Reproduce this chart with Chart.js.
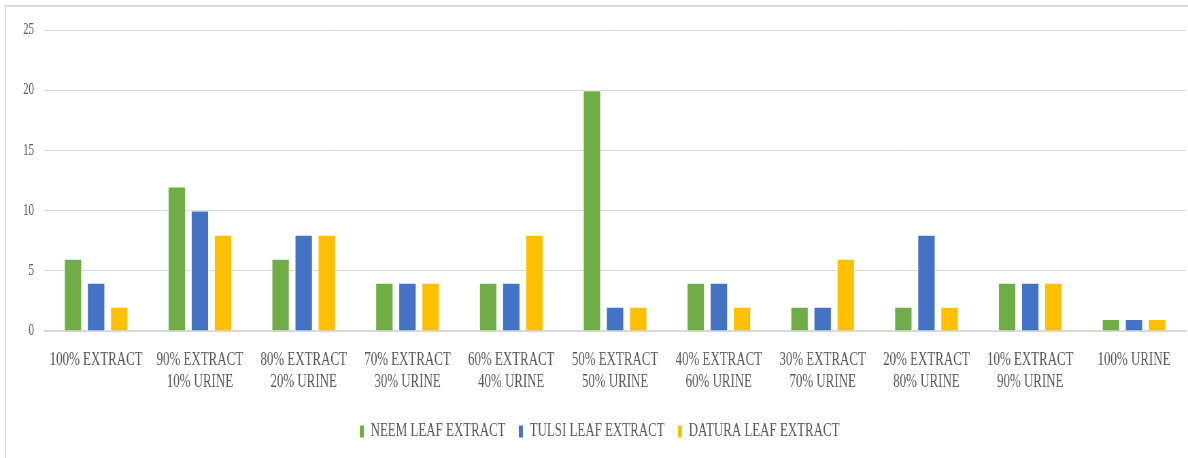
<!DOCTYPE html>
<html>
<head>
<meta charset="utf-8">
<script src="https://cdn.jsdelivr.net/npm/chart.js@4"></script>
<style>
  body { margin: 0; background: #fff; overflow: hidden; }
  #marco { position: absolute; left: 5px; top: 5px; width: 1200px; height: 470px; border-top: 2px solid #d9d9d9; border-left: 1px solid #d9d9d9; }
  /* el original usa una fuente estrecha: se comprime el lienzo en horizontal */
  #chart { position: absolute; left: 0; top: 0; transform-origin: 0 0; }
</style>
</head>
<body>
<div id="marco"></div>
<canvas id="chart"></canvas>
<script>
'use strict';

// Categorías (mezcla extracto / orina)
const categorias = [
  ['100% EXTRACT'],
  ['90% EXTRACT', '10% URINE'],
  ['80% EXTRACT', '20% URINE'],
  ['70% EXTRACT', '30% URINE'],
  ['60% EXTRACT', '40% URINE'],
  ['50% EXTRACT', '50% URINE'],
  ['40% EXTRACT', '60% URINE'],
  ['30% EXTRACT', '70% URINE'],
  ['20% EXTRACT', '80% URINE'],
  ['10% EXTRACT', '90% URINE'],
  ['100% URINE']
];

const neem = [6, 12, 6, 4, 4, 20, 4, 2, 2, 4, 1];
const tulsi = [4, 10, 8, 4, 4, 2, 4, 2, 8, 4, 1];
const datura = [2, 8, 8, 4, 8, 2, 2, 6, 2, 4, 1];

const escala = 0.68;
const familia = '"Liberation Serif", "Times New Roman", serif';
const gris = '#595959';

const canvas = document.getElementById('chart');
canvas.width = Math.round(1188 / escala);
canvas.height = 458;
canvas.style.width = canvas.width + 'px';
canvas.style.height = '458px';
canvas.style.transform = `scaleX(${escala})`;

new Chart(canvas, {
  type: 'bar',
  data: {
    labels: categorias,
    datasets: [
      { label: 'NEEM LEAF EXTRACT', data: neem, backgroundColor: '#70AD47', borderColor: '#ffffff', borderWidth: 1 },
      { label: 'TULSI LEAF EXTRACT', data: tulsi, backgroundColor: '#4472C4', borderColor: '#ffffff', borderWidth: 1 },
      { label: 'DATURA LEAF EXTRACT', data: datura, backgroundColor: '#FFC000', borderColor: '#ffffff', borderWidth: 1 }
    ]
  },
  options: {
    responsive: false,
    animation: false,
    devicePixelRatio: 1,
    layout: { padding: { left: 19, right: 3, top: 30, bottom: 7 } },
    datasets: { bar: { categoryPercentage: 0.668, barPercentage: 0.77 } },
    plugins: {
      legend: {
        position: 'bottom',
        labels: {
          color: gris,
          font: { family: familia, size: 19 },
          boxWidth: 7,
          boxHeight: 13,
          padding: 19
        }
      },
      tooltip: { enabled: false }
    },
    scales: {
      x: {
        grid: { display: false },
        border: { color: '#d9d9d9', width: 2 },
        ticks: {
          color: gris,
          font: { family: familia, size: 19, lineHeight: 1.16 },
          maxRotation: 0,
          autoSkip: false,
          padding: 10
        }
      },
      y: {
        min: 0,
        max: 25,
        ticks: { stepSize: 5, color: gris, font: { family: familia, size: 16 }, padding: 15 },
        grid: { color: '#d9d9d9', drawTicks: false },
        border: { display: false }
      }
    }
  }
});
</script>
</body>
</html>
